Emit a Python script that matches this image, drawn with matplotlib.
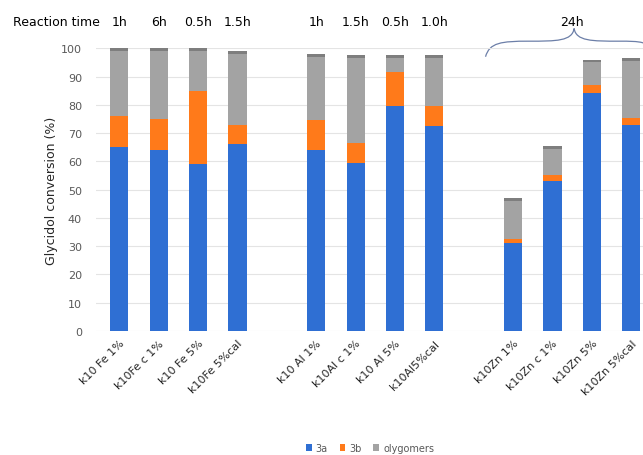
import numpy as np
import matplotlib.pyplot as plt
from matplotlib.path import Path
from matplotlib.patches import PathPatch
import matplotlib.transforms as mtransforms

samples = ['k10 Fe 1%', 'k10Fe c 1%', 'k10 Fe 5%', 'k10Fe 5%cal',
           'k10 Al 1%', 'k10Al c 1%', 'k10 Al 5%', 'k10Al5%cal',
           'k10Zn 1%', 'k10Zn c 1%', 'k10Zn 5%', 'k10Zn 5%cal']
times = ['1h', '6h', '0.5h', '1.5h', '1h', '1.5h', '0.5h', '1.0h']
y_3a = [65, 64, 59, 66, 64, 59.5, 79.5, 72.5, 31, 53, 84, 73]
y_3b = [11, 11, 26, 7, 10.5, 7, 12, 7, 1.5, 2, 3, 2.5]
y_oly = [24, 25, 15, 26, 23.5, 31, 6, 18, 14.5, 10.5, 9, 21]

# groups of four with one empty slot between them
pos = np.array([0, 1, 2, 3, 5, 6, 7, 8, 10, 11, 12, 13])

c_3a = '#2F6FD3'
c_3b = '#FF7A1A'
c_oly = '#A3A3A3'

fig = plt.figure(figsize=(6.43, 4.56), dpi=100)
ax = fig.add_axes([0.149, 0.272, 0.851, 0.62])

w = 0.46
bottom2 = np.array(y_3a)
bottom3 = bottom2 + np.array(y_3b)
ax.bar(pos, y_3a, w, color=c_3a, label='3a', zorder=3)
ax.bar(pos, y_3b, w, bottom=bottom2, color=c_3b, label='3b', zorder=3)
ax.bar(pos, y_oly, w, bottom=bottom3, color=c_oly, label='olygomers', zorder=3)
# darker top cap for a bit of depth
ax.bar(pos, 1.0, w, bottom=bottom3 + np.array(y_oly) - 1.0, color='#7E7E7E', zorder=4)

ax.set_xlim(-0.6, 13.3)
ax.set_ylim(0, 100)
ax.set_yticks(range(0, 101, 10))
ax.tick_params(axis='y', length=0, labelsize=8, labelcolor='#595959', pad=10)
ax.tick_params(axis='x', length=0, pad=5)
ax.set_xticks(pos)
ax.set_xticklabels(samples, rotation=45, ha='right', rotation_mode='anchor',
                   fontsize=8, color='#262626')
ax.grid(axis='y', color='#E4E4E4', linewidth=0.8, zorder=0)
for s in ax.spines.values():
    s.set_visible(False)

ax.set_ylabel('Glycidol conversion (%)', fontsize=9, color='#262626', labelpad=2)

trans = mtransforms.blended_transform_factory(ax.transData, fig.transFigure)
ytop = 1 - 22 / 456
fig.text(13 / 643, ytop, 'Reaction time', fontsize=9, va='center', ha='left')
for p, t in zip(pos[:8], times):
    ax.text(p, ytop, t, transform=trans, fontsize=9, va='center', ha='center')
ax.text(11.5, ytop, '24h', transform=trans, fontsize=9, va='center', ha='center')

# curly brace over the 24h group
verts = [(9.3, 97), (9.4, 102), (9.7, 102.5), (10.4, 102.5),
         (11.1, 102.5), (11.5, 102.5), (11.55, 107),
         (11.6, 102.5), (12.0, 102.5), (12.7, 102.5),
         (13.2, 102.5), (13.5, 102.5), (13.6, 98)]
codes = [Path.MOVETO, Path.CURVE4, Path.CURVE4, Path.CURVE4,
         Path.CURVE4, Path.CURVE4, Path.CURVE4,
         Path.CURVE4, Path.CURVE4, Path.CURVE4,
         Path.CURVE4, Path.CURVE4, Path.CURVE4]
brace = PathPatch(Path(verts, codes), facecolor='none', edgecolor='#6C7FA8',
                  linewidth=0.9, clip_on=False)
ax.add_patch(brace)

fig.legend(loc='center', bbox_to_anchor=(370 / 643, 1 - 449 / 456), ncol=3,
           frameon=False, fontsize=7, handlelength=0.6, handleheight=0.6,
           handletextpad=0.4, columnspacing=1.2, labelcolor='#595959')

fig.savefig('out.png', dpi=100)
